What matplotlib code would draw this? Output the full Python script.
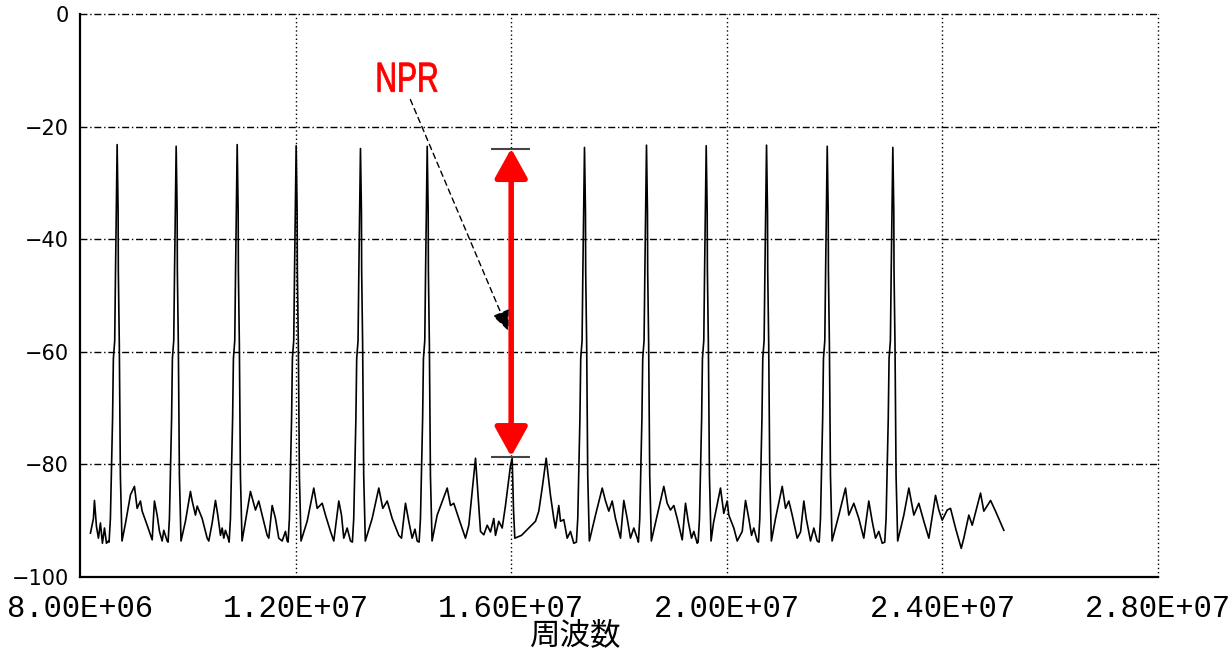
import numpy as np
import matplotlib.pyplot as plt
from matplotlib.ticker import FuncFormatter
from matplotlib.textpath import TextPath
from matplotlib.patches import PathPatch
from matplotlib.font_manager import FontProperties
from matplotlib.transforms import Affine2D, IdentityTransform

# tone centres (MHz) and their top levels (dB)
tone_mhz = [8.690, 9.785, 10.917, 12.011, 13.204, 14.442,
            17.360, 18.510, 19.618, 20.737, 21.863, 23.080]
tone_db = [-23.2, -23.5, -23.2, -23.4, -23.9, -23.5,
           -23.7, -23.3, -23.4, -23.3, -23.5, -23.7]

# skirt of one tone, offset from its centre (MHz) -> level (dB); None = top
skirt_off = [-0.15, -0.125, -0.105, -0.085, -0.07, -0.045, -0.03, 0.0,
             0.018, 0.022, 0.04, 0.06, 0.09]
skirt_db = [-93.8, -89.6, -80.7, -71.9, -61.2, -58.0, -45.6, None,
            -35.2, -45.6, -58.6, -82.0, -93.6]

# noise floor between the tones
floor_mhz = [
    8.195, 8.250, 8.269, 8.306, 8.343, 8.380, 8.417, 8.455, 8.492, 8.529,
    8.844, 8.937, 9.011, 9.061, 9.122, 9.154, 9.247, 9.340, 9.382, 9.432, 9.475, 9.525, 9.555, 9.618,
    9.957, 10.050, 10.082, 10.143, 10.175, 10.267, 10.360, 10.390, 10.453, 10.514, 10.557, 10.607,
    10.638, 10.668, 10.699, 10.749,
    11.070, 11.163, 11.256, 11.317, 11.380, 11.473, 11.503, 11.566, 11.627, 11.688, 11.751, 11.813, 11.844,
    12.215, 12.338, 12.401, 12.494, 12.555, 12.648, 12.709, 12.802, 12.852, 12.894, 12.957, 13.019,
    13.421, 13.544, 13.618, 13.700, 13.792, 13.915, 13.965, 14.039, 14.100, 14.163, 14.215, 14.256,
    14.627, 14.813, 14.874, 14.935, 15.028, 15.152, 15.214, 15.338, 15.399, 15.431, 15.492, 15.555,
    15.616, 15.677, 15.709, 15.770, 15.833, 15.894, 15.987, 16.018, 16.043, 16.067, 16.191, 16.326,
    16.451, 16.512, 16.575, 16.649, 16.729, 16.790, 16.822, 16.883, 16.915, 16.976, 17.039, 17.100, 17.161,
    17.564, 17.689, 17.750, 17.811, 17.874, 17.935, 18.028, 18.089, 18.152, 18.213, 18.275, 18.338,
    18.709, 18.831, 18.894, 18.955, 19.017, 19.080, 19.173, 19.234, 19.284, 19.345, 19.388, 19.451,
    19.753, 19.883, 19.944, 20.007, 20.037, 20.130, 20.193, 20.286, 20.347, 20.408, 20.459, 20.501, 20.564,
    20.904, 21.028, 21.090, 21.151, 21.213, 21.306, 21.368, 21.429, 21.473, 21.553, 21.615, 21.677,
    22.078, 22.202, 22.263, 22.356, 22.449, 22.541, 22.634, 22.697, 22.759, 22.820, 22.883,
    23.284, 23.377, 23.470, 23.562, 23.655, 23.748, 23.872, 23.933, 23.996, 24.089, 24.150, 24.243,
    24.349, 24.397, 24.490, 24.553, 24.707, 24.768, 24.893, 24.985, 25.139,
]
floor_db = [
    -92.2, -89.6, -86.4, -91.0, -93.1, -90.4, -94.0, -91.3, -94.0, -93.6,
    -90.5, -85.4, -83.9, -87.8, -86.5, -88.3, -90.8, -93.4, -86.5, -89.0, -91.9, -93.6, -91.7, -93.6,
    -90.1, -84.8, -86.5, -89.0, -87.4, -89.6, -93.1, -93.6, -90.4, -86.4, -89.0, -92.6,
    -91.3, -93.1, -91.7, -93.1,
    -90.1, -84.8, -88.1, -86.5, -89.0, -92.6, -93.1, -87.3, -89.6, -93.1, -93.6, -91.9, -93.6,
    -90.1, -84.2, -87.8, -86.9, -89.0, -91.9, -93.6, -86.5, -89.0, -93.1, -91.3, -93.6,
    -89.6, -84.2, -87.8, -86.5, -89.6, -92.6, -93.1, -86.9, -90.1, -93.1, -91.5, -93.6,
    -89.0, -84.2, -87.3, -86.9, -89.6, -93.1, -90.8, -78.9, -87.3, -91.9, -92.5, -90.8,
    -92.0, -89.6, -92.6, -90.1, -91.3, -87.3, -80.2, -78.9, -88.0, -93.1, -92.6, -91.3,
    -90.1, -88.3, -84.2, -78.9, -85.5, -89.6, -91.3, -87.3, -90.1, -89.8, -93.1, -91.9, -94.0,
    -89.0, -84.2, -86.5, -88.3, -86.5, -89.6, -93.1, -86.4, -89.6, -93.1, -91.3, -93.1,
    -89.0, -83.9, -86.9, -88.1, -87.3, -89.6, -93.4, -86.9, -90.1, -93.1, -91.9, -94.0,
    -90.4, -84.2, -88.7, -86.5, -89.0, -91.3, -93.6, -91.9, -86.4, -89.6, -92.6, -91.3, -93.6,
    -89.6, -83.9, -87.8, -86.5, -89.0, -93.1, -92.0, -86.5, -89.6, -93.6, -91.3, -93.6,
    -89.0, -84.2, -89.0, -86.9, -89.6, -93.1, -86.5, -90.1, -93.1, -91.9, -94.0,
    -89.0, -84.2, -89.0, -86.9, -90.1, -93.1, -85.5, -88.1, -89.9, -88.1, -87.8, -91.3,
    -94.9, -93.1, -89.0, -90.8, -85.1, -88.3, -86.4, -88.3, -91.7,
]

x_ticks = [8e6, 1.2e7, 1.6e7, 2.0e7, 2.4e7, 2.8e7]
y_ticks = [-100, -80, -60, -40, -20, 0]

# NPR marker
npr_mhz = 16.0
npr_top, npr_bottom = -23.9, -78.6
cap_left, cap_right = 15.62, 16.35
npr_text_pos = (13.48, -13.8)   # lower-left corner of the text
npr_arrow_from = (14.13, -15.2)
npr_arrow_to = (15.95, -56.3)

# assemble the trace
f_all = list(floor_mhz)
d_all = list(floor_db)
for c, top in zip(tone_mhz, tone_db):
    for off, lv in zip(skirt_off, skirt_db):
        f_all.append(c + off)
        d_all.append(top if lv is None else lv)
order = np.argsort(f_all)
freq = np.array(f_all)[order] * 1e6
level = np.array(d_all)[order]

fig = plt.figure(figsize=(12.3, 6.54), dpi=100)
ax = fig.add_axes([0.065, 0.1177, 0.8765, 0.8609])

ax.plot(freq, level, color='black', lw=1.2)

ax.set_xlim(8e6, 2.8e7)
ax.set_ylim(-100, 0)
ax.set_xticks(x_ticks)
ax.set_yticks(y_ticks)
ax.xaxis.set_major_formatter(FuncFormatter(lambda v, p: f"{v:.2E}"))

for v in y_ticks[1:]:
    ax.axhline(v, color='black', lw=1.0, ls=(0, (5, 2, 1, 2)), zorder=0, clip_on=False)
for v in x_ticks[1:]:
    ax.axvline(v, color='black', lw=1.0, ls=(0, (1, 2)), zorder=0, clip_on=False)

for s in ['top', 'right']:
    ax.spines[s].set_visible(False)
for s in ['left', 'bottom']:
    ax.spines[s].set_linewidth(1.6)

ax.tick_params(length=0)
ax.tick_params(axis='x', pad=12)
ax.tick_params(axis='y', pad=8)
for t in ax.get_xticklabels():
    t.set_family('Liberation Mono')
    t.set_fontsize(22)
for t in ax.get_yticklabels():
    t.set_family('DejaVu Sans')
    t.set_fontsize(15)

fig.text(576 / 1230, 1 - 636 / 654, '周波数', family=['Noto Sans CJK JP', 'DejaVu Sans'],
         fontsize=22, ha='center', va='center')

# NPR double arrow with caps
ax.hlines([npr_top, npr_bottom], cap_left * 1e6, cap_right * 1e6, color='#444444', lw=1.5, zorder=4)
ax.annotate('', xy=(npr_mhz * 1e6, npr_top), xytext=(npr_mhz * 1e6, npr_bottom),
            arrowprops=dict(arrowstyle='<|-|>,head_length=0.9,head_width=0.5',
                            color='red', lw=4, mutation_scale=20, shrinkA=0, shrinkB=0),
            zorder=5)
ax.annotate('', xy=(npr_arrow_to[0] * 1e6, npr_arrow_to[1]),
            xytext=(npr_arrow_from[0] * 1e6, npr_arrow_from[1]),
            arrowprops=dict(arrowstyle='-|>,head_length=0.7,head_width=0.3',
                            color='black', lw=1.0, ls=(0, (4, 3)), mutation_scale=18,
                            shrinkA=0, shrinkB=0),
            zorder=5)

# condensed "NPR" label: text path squeezed horizontally
fig.canvas.draw()
x0, y0 = ax.transData.transform((npr_text_pos[0] * 1e6, npr_text_pos[1]))
tp = TextPath((0, 0), 'NPR', size=1, prop=FontProperties(family='Liberation Sans'))
npr_tr = Affine2D().scale(30, 42).translate(x0, y0)
fig.patches.append(PathPatch(tp, transform=npr_tr + IdentityTransform(), color='red',
                             lw=0.6, figure=fig))

fig.savefig('out.png', dpi=100)
